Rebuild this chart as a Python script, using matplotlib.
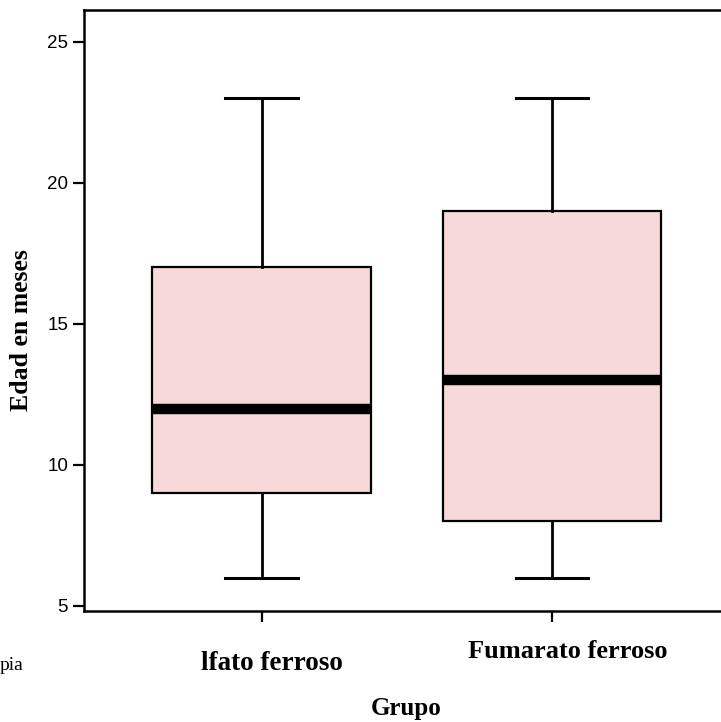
import matplotlib
matplotlib.use("Agg")
import matplotlib.pyplot as plt

# box summary per group
groups = ["lfato ferroso", "Fumarato ferroso"]
positions = [1, 2]
whislo = [6, 6]
q1 = [9, 8]
med = [12, 13]
q3 = [17, 19]
whishi = [23, 23]
yticks = [5, 10, 15, 20, 25]

fig = plt.figure(figsize=(7.21, 7.22), dpi=100)
ax = fig.add_axes([84 / 721, 1 - 611 / 722, 1 - 84 / 721 + 0.01, 601 / 722])

stats = []
for i in range(len(groups)):
    stats.append({"whislo": whislo[i], "q1": q1[i], "med": med[i],
                  "q3": q3[i], "whishi": whishi[i], "fliers": []})

ax.bxp(stats, positions=positions, widths=0.753, patch_artist=True,
       showfliers=False,
       boxprops=dict(facecolor="#f7d9da", edgecolor="black", linewidth=1.6),
       medianprops=dict(color="black", linewidth=7.5, solid_capstyle="butt"),
       whiskerprops=dict(color="black", linewidth=2),
       capprops=dict(color="black", linewidth=2.2),
       capwidths=0.25)

ax.set_xlim(0.388, 2.577 + 0.03)
ax.set_ylim(4.82, 26.13)
ax.set_yticks(yticks)
ax.set_yticklabels([str(t) for t in yticks], fontsize=13.5, family="Liberation Sans")
ax.set_xticks(positions)
ax.set_xticklabels(["", ""])
ax.tick_params(axis="both", length=8, width=1.6, direction="out")
ax.spines["right"].set_visible(False)
for s in ["left", "top", "bottom"]:
    ax.spines[s].set_linewidth(1.8)

# category labels: placed as in the original (not centred on ticks)
fig.text(201 / 721, 1 - 663 / 722, groups[0], ha="left", va="center",
         fontsize=19.5, fontweight="bold", family="Liberation Serif")
fig.text(568 / 721, 1 - 651 / 722, groups[1], ha="center", va="center",
         fontsize=19, fontweight="bold", family="Liberation Serif")

fig.text(406 / 721, 1 - 709 / 722, "Grupo", ha="center", va="center",
         fontsize=18, fontweight="bold", family="Liberation Serif")
fig.text(22 / 721, 1 - 330 / 722, "Edad en meses", ha="center", va="center",
         rotation=90, fontsize=18.5, fontweight="bold", family="Liberation Serif")
fig.text(0, 1 - 665 / 722, "pia", ha="left", va="center", fontsize=14,
         family="Liberation Serif")

fig.savefig("out.png", dpi=100)
